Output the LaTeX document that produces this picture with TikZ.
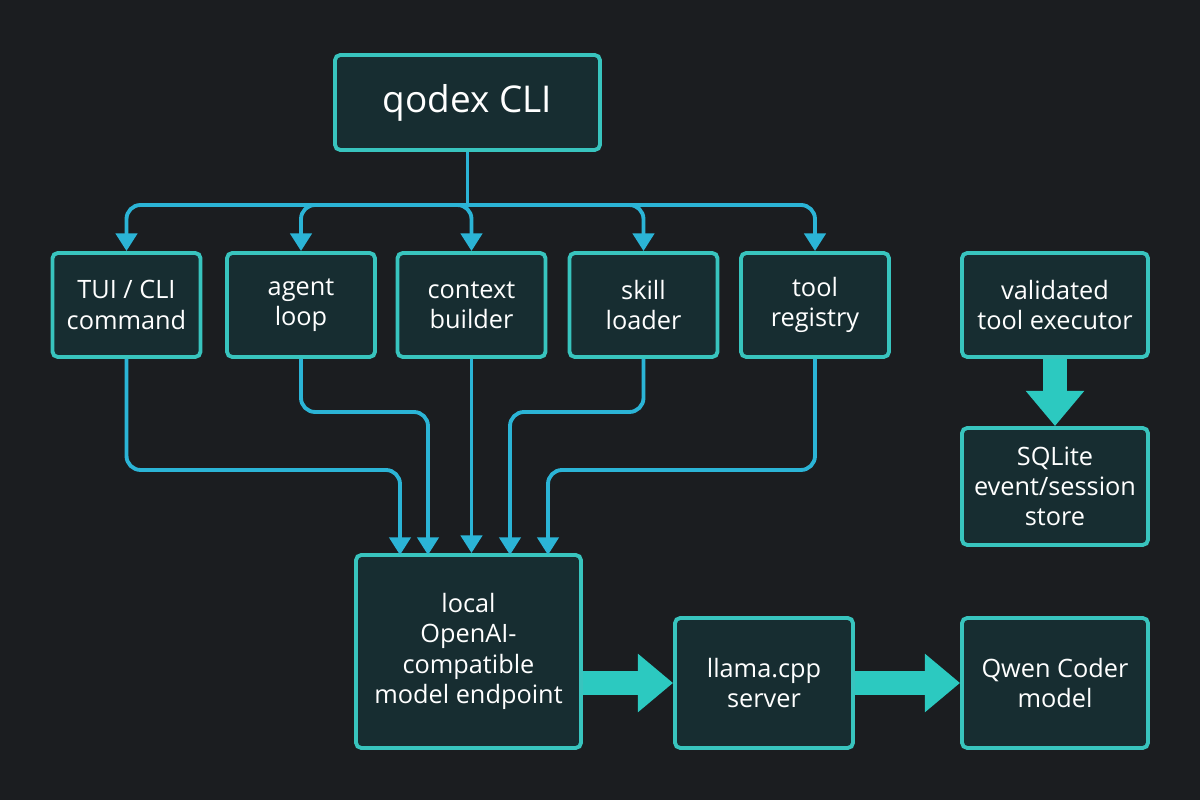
\documentclass[tikz,border=0pt]{standalone}
\usepackage{fontspec}
\setmainfont{Open Sans}
\usetikzlibrary{arrows.meta, positioning}
\definecolor{bgcol}{HTML}{1B1D20}
\definecolor{boxfill}{HTML}{172D31}
\definecolor{boxline}{HTML}{38C4BE}
\definecolor{wire}{HTML}{2BB4D6}
\definecolor{fat}{HTML}{2CC9C0}
\begin{document}
\begin{tikzpicture}[
        box/.style={draw=boxline, fill=boxfill, line width=1.1pt, rounded corners=1.5pt,
            minimum width=#1, align=center, text=white, font=\fontsize{7.2}{8.6}\selectfont},
        row/.style={box=1.48cm, minimum height=1.04cm},
        side/.style={box=1.86cm},
        link/.style={draw=wire, line width=1.1pt, rounded corners=4pt, -{Triangle[length=5pt,width=6pt]}},
        bigarrow/.style={draw=fat, line width=7pt, -{Triangle[length=10pt,width=16pt]}}]
        \fill[bgcol] (0,0) rectangle (12,8);
        \node[box=2.65cm, minimum height=0.95cm, font=\fontsize{10.5}{12}\selectfont] (cli) at (4.675,6.975) {qodex CLI};
        \node[row] (tui) at (1.265,4.95) {TUI / CLI\\command};
        \node[row] (agent) at (3.01,4.95) {agent\\loop};
        \node[row] (ctx) at (4.715,4.95) {context\\builder};
        \node[row] (skill) at (6.435,4.95) {skill\\loader};
        \node[row] (reg) at (8.15,4.95) {tool\\registry};
        \node[side, minimum height=1.04cm] (exec) at (10.55,4.95) {validated\\tool executor};
        \node[side, minimum height=1.17cm] (store) at (10.55,3.135) {SQLite\\event/session\\store};
        \node[box=2.25cm, minimum height=1.93cm] (ep) at (4.685,1.485) {local\\OpenAI-\\compatible\\model endpoint};
        \node[box=1.78cm, minimum height=1.3cm] (llama) at (7.64,1.17) {llama.cpp\\server};
        \node[side, minimum height=1.3cm] (qwen) at (10.55,1.17) {Qwen Coder\\model};
        % fan-out from the CLI
        \coordinate (split) at (4.675,5.95);
        \draw[draw=wire, line width=1.1pt] (cli.south) -- (split);
        \foreach \n in {tui,agent,ctx,skill,reg}{
            \draw[link] (split) -| (\n.north);
        }
        % fan-in to the endpoint
        \draw[link] (tui.south) |- (4.0,3.3) -- (4.0,2.45);
        \draw[link] (agent.south) |- (4.28,3.88) -- (4.28,2.45);
        \draw[link] (ctx.south) -- (ctx.south |- ep.north);
        \draw[link] (skill.south) |- (5.1,3.88) -- (5.1,2.45);
        \draw[link] (reg.south) |- (5.48,3.3) -- (5.48,2.45);
        \draw[bigarrow] (ep.east |- llama) -- (llama.west);
        \draw[bigarrow] (llama) -- (qwen);
        \draw[bigarrow] (exec) -- (store);
\end{tikzpicture}
\end{document}
